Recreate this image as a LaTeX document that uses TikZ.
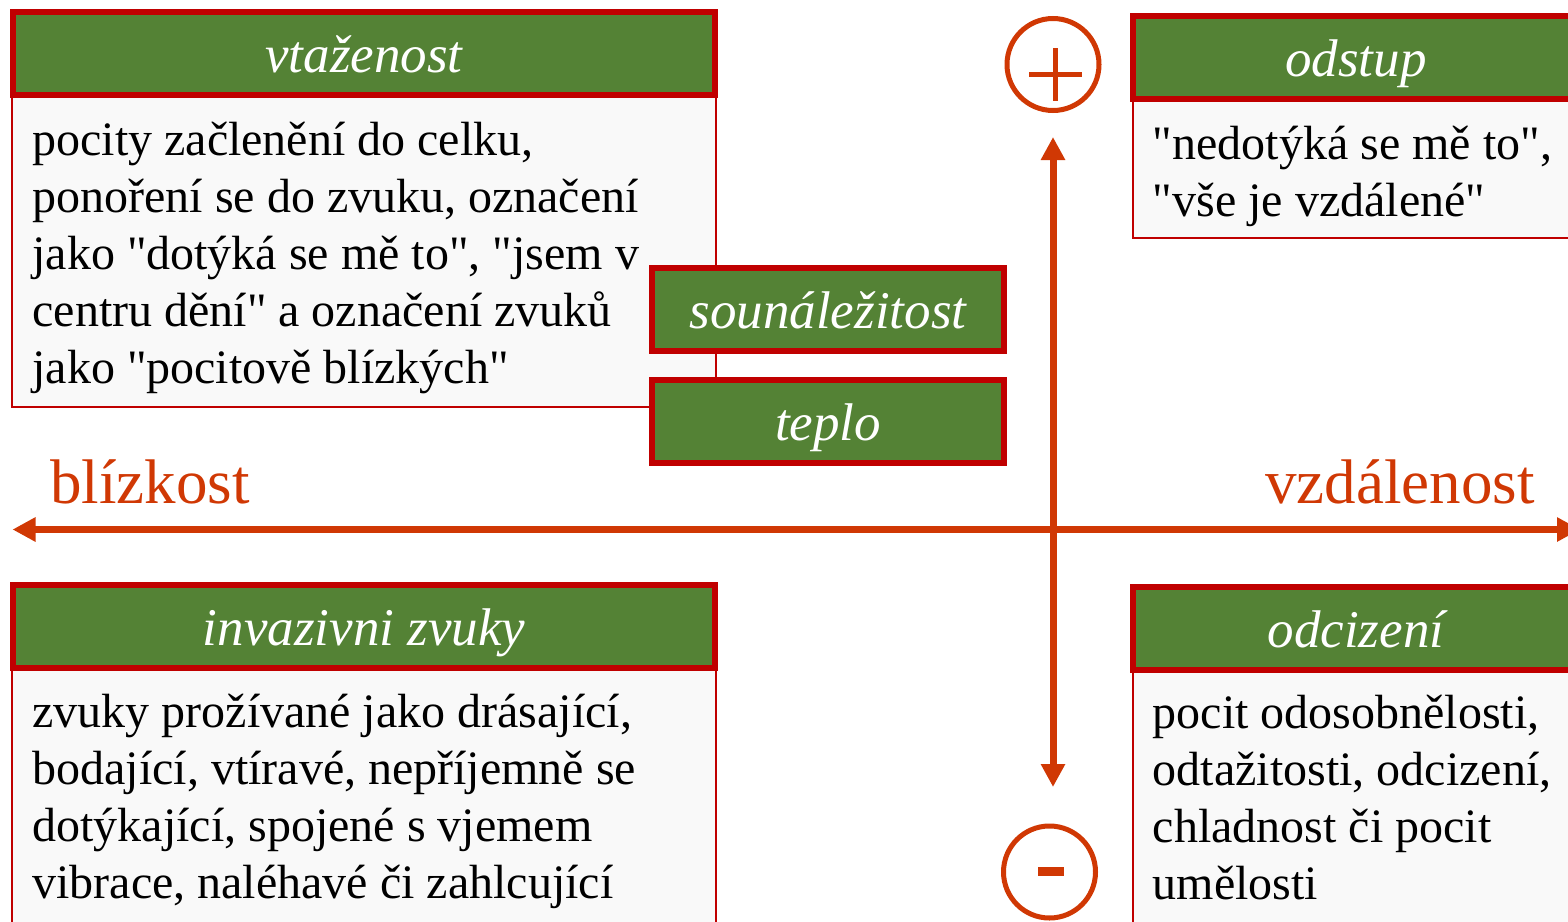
\documentclass[tikz,border=0pt]{standalone}
\usepackage{fontspec}
\setmainfont{Liberation Serif}[Ligatures=TeXOff]
\usetikzlibrary{arrows.meta,positioning,calc}
\definecolor{framered}{RGB}{192,0,0}
\definecolor{leafgreen}{RGB}{84,130,53}
\definecolor{axisred}{RGB}{208,56,4}
\definecolor{paper}{RGB}{249,249,249}

\begin{document}
\begin{tikzpicture}[x=0.5pt,y=0.5pt]


\tikzstyle{title} = [draw=framered, fill=leafgreen, line width=3pt, inner sep=0pt, outer sep=0pt, minimum height=41.5pt, text=white, font=\fontsize{26.5}{30}\selectfont\itshape, text height=20pt, text depth=1.5pt]
\tikzstyle{panel} = [draw=framered, fill=paper, line width=1pt, inner sep=0pt, outer sep=0pt, anchor=north west]
\tikzstyle{words} = [inner sep=0pt, anchor=north west, align=left, font=\fontsize{24}{28.5}\selectfont]
\tikzstyle{sign} = [circle, draw=axisred, line width=2.5pt, minimum size=46pt, inner sep=0pt]
\tikzstyle{pole} = [text=axisred, font=\fontsize{31.5}{36}\selectfont, inner sep=0pt]
\tikzset{axis/.style={draw=axisred, line width=3.5pt, {Triangle[width=11.5pt,length=11.5pt]}-{Triangle[width=11.5pt,length=11.5pt]}}}

\useasboundingbox (0,0) rectangle (1568,-921);

% quadrant panels
\node[panel, minimum width=352pt, minimum height=156pt] (b1) at (12,-95) {};
\node[title, minimum width=351pt, above=0pt of b1] (h1) {vtaženost};
\node[words] (t1) at ($(b1.north west)+(20,-20)$) {\strut pocity začlenění do celku,\\ponoření se do zvuku, označení\\jako "dotýká se mě to", "jsem v\\centru dění" a označení zvuků\\jako "pocitově blízkých"};

\node[panel, minimum width=223.5pt, minimum height=69.5pt] (b2) at (1132.5,-99) {};
\node[title, minimum width=223.5pt, above=0pt of b2] (h2) {odstup};
\node[words] (t2) at ($(b2.north west)+(20,-20)$) {\strut "nedotýká se mě to",\\"vše je vzdálené"};

\node[panel, minimum width=352pt, minimum height=140pt] (b3) at (12,-668) {};
\node[title, minimum width=351pt, above=0pt of b3] (h3) {invazivni zvuky};
\node[words] (t3) at ($(b3.north west)+(20,-19)$) {\strut zvuky prožívané jako drásající,\\bodající, vtíravé, nepříjemně se\\dotýkající, spojené s vjemem\\vibrace, naléhavé či zahlcující};

\node[panel, minimum width=223.5pt, minimum height=140pt] (b4) at (1132.5,-670) {};
\node[title, minimum width=223.5pt, above=0pt of b4] (h4) {odcizení};
\node[words] (t4) at ($(b4.north west)+(20,-18)$) {\strut pocit odosobnělosti,\\odtažitosti, odcizení,\\chladnost či pocit\\umělosti};

% the two boxes in the middle
\node[title, minimum width=176pt] (belong) at (828,-309.5) {sounáležitost};
\node[title, minimum width=176pt, below=14.5pt of belong] (warmth) {teplo};

% axes
\coordinate (west) at (12.5,-529.5);
\coordinate (east) at (1580,-529.5);
\coordinate (up) at (1053,-137);
\coordinate (down) at (1053,-787);
\draw[axis] (west) -- (east);
\draw[axis] (up) -- (down);

\node[pole, anchor=base west] (near) at (50,-503) {blízkost};
\node[pole, anchor=base east] (far) at (1535,-503) {vzdálenost};

\node[sign] (plus) at (1053,-64.5) {};
\draw[axisred, line width=2.5pt] ($(plus)+(-24,-10)$) -- ($(plus)+(29,-10)$) ($(plus)+(2.5,16.5)$) -- ($(plus)+(2.5,-36.5)$);
\node[sign] (minus) at (1049.5,-872) {};
\draw[axisred, line width=4.5pt] ($(minus)+(-11.5,0.5)$) -- ($(minus)+(14.5,0.5)$);

\end{tikzpicture}
\end{document}
